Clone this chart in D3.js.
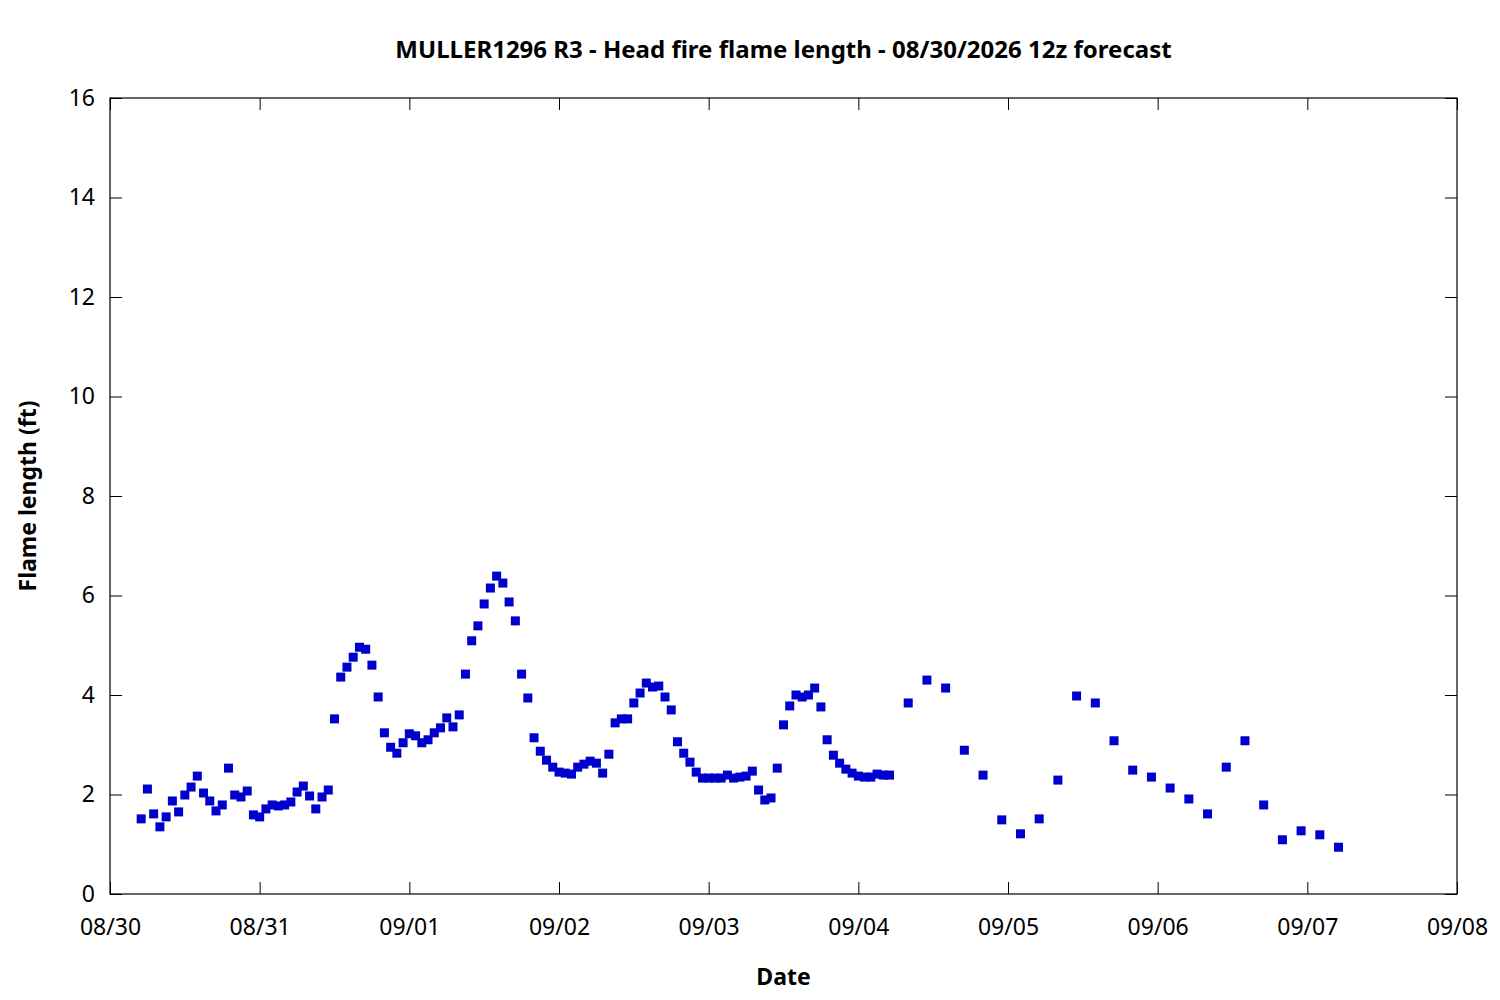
<!DOCTYPE html>
<html>
<head>
<meta charset="utf-8">
<script src="https://cdn.jsdelivr.net/npm/d3@7"></script>
<style>
  body { margin: 0; background: #fff; }
  text { font-family: "Noto Sans", "Open Sans", sans-serif; }
</style>
</head>
<body>
<div id="chart"></div>
<script>
// hourly values from 08/30 05:00 to 09/04 05:00
var hourlyStart = "2026-08-30T05:00";
var hourlyValues = [
  1.51, 2.11, 1.61, 1.35, 1.55, 1.87, 1.65, 1.99, 2.15, 2.37,
  2.03, 1.87, 1.67, 1.79, 2.53, 1.99, 1.95, 2.07, 1.59, 1.55,
  1.71, 1.79, 1.77, 1.79, 1.85, 2.05, 2.17, 1.97, 1.71, 1.95,
  2.09, 3.52, 4.36, 4.56, 4.76, 4.96, 4.92, 4.60, 3.96, 3.24,
  2.95, 2.83, 3.04, 3.22, 3.18, 3.04, 3.10, 3.24, 3.34, 3.54,
  3.36, 3.60, 4.42, 5.09, 5.39, 5.83, 6.15, 6.39, 6.25, 5.87,
  5.49, 4.42, 3.94, 3.14, 2.87, 2.69, 2.55, 2.45, 2.43, 2.41,
  2.55, 2.61, 2.67, 2.63, 2.43, 2.81, 3.44, 3.52, 3.52, 3.84,
  4.04, 4.24, 4.16, 4.18, 3.96, 3.70, 3.06, 2.83, 2.65, 2.45,
  2.33, 2.33, 2.33, 2.33, 2.39, 2.33, 2.35, 2.37, 2.47, 2.09,
  1.89, 1.93, 2.53, 3.40, 3.78, 4.00, 3.96, 4.00, 4.14, 3.76,
  3.10, 2.79, 2.63, 2.51, 2.43, 2.37, 2.35, 2.35, 2.41, 2.39,
  2.39
];
// 3-hourly values from 09/04 08:00 to 09/07 05:00
var threeHourlyStart = "2026-09-04T08:00";
var threeHourlyValues = [
  3.84, 4.30, 4.14, 2.89, 2.39, 1.49, 1.21, 1.51, 2.29, 3.98,
  3.84, 3.08, 2.49, 2.35, 2.13, 1.91, 1.61, 2.55, 3.08, 1.79,
  1.09, 1.27, 1.19, 0.94
];
var yTicks = [0, 2, 4, 6, 8, 10, 12, 14, 16];
var dayTicks = ["2026-08-30", "2026-08-31", "2026-09-01", "2026-09-02", "2026-09-03",
                "2026-09-04", "2026-09-05", "2026-09-06", "2026-09-07", "2026-09-08"];

var parseTime = d3.timeParse("%Y-%m-%dT%H:%M");
var parseDay = d3.timeParse("%Y-%m-%d");

var points = [];
var t0 = parseTime(hourlyStart);
hourlyValues.forEach(function(v, i) {
    points.push({ t: d3.timeHour.offset(t0, i), v: v });
});
var t1 = parseTime(threeHourlyStart);
threeHourlyValues.forEach(function(v, i) {
    points.push({ t: d3.timeHour.offset(t1, i * 3), v: v });
});

var w = 1500, h = 1000;
var mLeft = 110, mRight = 1457, mTop = 98, mBottom = 894;
var fontStack = "'Noto Sans', 'Open Sans', sans-serif";

var svg = d3.select("#chart").append("svg")
    .attr("width", w)
    .attr("height", h);

var x = d3.scaleTime()
    .domain([parseDay(dayTicks[0]), parseDay(dayTicks[dayTicks.length - 1])])
    .range([mLeft, mRight]);
var y = d3.scaleLinear()
    .domain([0, 16])
    .range([mBottom, mTop]);

var days = dayTicks.map(parseDay);
var fmt = d3.timeFormat("%m/%d");

function styleAxis(g) {
    g.select(".domain").remove();
    g.selectAll("text").attr("font-size", "23px").attr("fill", "#000")
        .attr("font-family", fontStack);
    g.selectAll("line").attr("stroke", "#000");
}

// bottom axis, ticks pointing inward
svg.append("g")
    .attr("transform", "translate(0," + mBottom + ")")
    .call(d3.axisBottom(x).tickValues(days).tickFormat(fmt).tickSizeInner(-12).tickSizeOuter(0).tickPadding(25))
    .call(styleAxis);
// top axis ticks
svg.append("g")
    .attr("transform", "translate(0," + mTop + ")")
    .call(d3.axisTop(x).tickValues(days).tickFormat("").tickSizeInner(-12).tickSizeOuter(0))
    .call(styleAxis);

// left axis
svg.append("g")
    .attr("transform", "translate(" + mLeft + ",0)")
    .call(d3.axisLeft(y).tickValues(yTicks).tickSizeInner(-12).tickSizeOuter(0).tickPadding(15))
    .call(styleAxis);
// right axis ticks
svg.append("g")
    .attr("transform", "translate(" + mRight + ",0)")
    .call(d3.axisRight(y).tickValues(yTicks).tickFormat("").tickSizeInner(-12).tickSizeOuter(0))
    .call(styleAxis);

// plot frame
svg.append("rect")
    .attr("x", mLeft)
    .attr("y", mTop)
    .attr("width", mRight - mLeft)
    .attr("height", mBottom - mTop)
    .attr("fill", "none")
    .attr("stroke", "#000")
    .attr("stroke-width", 1.2);

// points
var s = 9;
svg.selectAll("rect.pt")
    .data(points)
    .enter()
    .append("rect")
    .attr("class", "pt")
    .attr("x", function(d) { return x(d.t) - s / 2; })
    .attr("y", function(d) { return y(d.v) - s / 2; })
    .attr("width", s)
    .attr("height", s)
    .attr("fill", "#0000cc");

// title and labels
svg.append("text")
    .text("MULLER1296 R3 - Head fire flame length - 08/30/2026 12z forecast")
    .attr("x", (mLeft + mRight) / 2)
    .attr("y", 58)
    .attr("text-anchor", "middle")
    .attr("font-size", "24px")
    .attr("font-weight", "bold");

svg.append("text")
    .text("Date")
    .attr("x", (mLeft + mRight) / 2)
    .attr("y", 985)
    .attr("text-anchor", "middle")
    .attr("font-size", "23px")
    .attr("font-weight", "bold");

svg.append("text")
    .text("Flame length (ft)")
    .attr("transform", "translate(36," + (mTop + mBottom) / 2 + ") rotate(-90)")
    .attr("text-anchor", "middle")
    .attr("font-size", "23px")
    .attr("font-weight", "bold");
</script>
</body>
</html>
